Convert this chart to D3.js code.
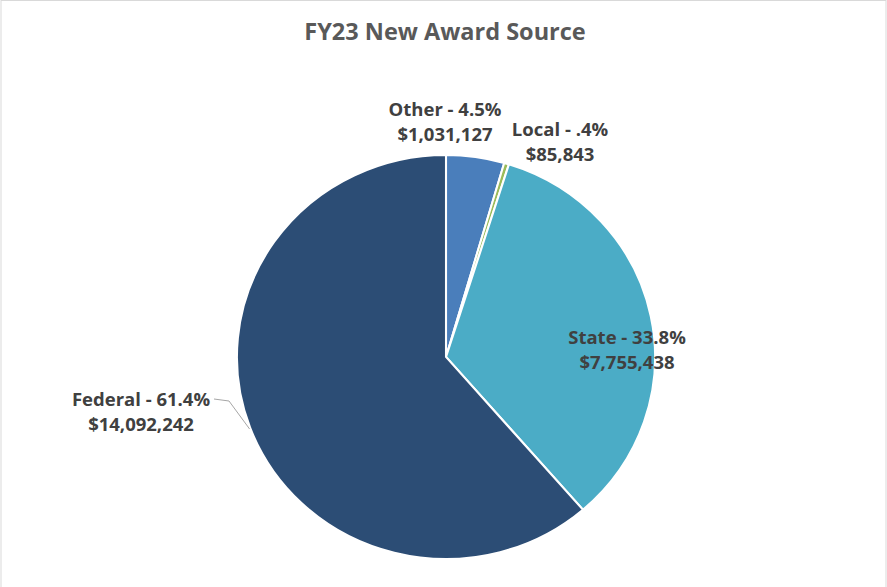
<!DOCTYPE html>
<html lang="en">
<head>
<meta charset="UTF-8">
<title>FY23 New Award Source</title>
<script src="https://d3js.org/d3.v7.min.js"></script>
<style>
  body { margin: 0; background: #fff; }
  text { font-family: "Open Sans", "Liberation Sans", sans-serif; font-weight: bold; }
</style>
</head>
<body>
<svg width="887" height="587"></svg>
<script>
// data
var categories = ['Other', 'Local', 'State', 'Federal'];
var amounts = [1031127, 85843, 7755438, 14092242];
var pctLabels = ['4.5%', '.4%', '33.8%', '61.4%'];
var amountLabels = ['$1,031,127', '$85,843', '$7,755,438', '$14,092,242'];

var colors = ['#4a7ebb', '#9bbb59', '#4bacc6', '#2c4d75'];
// label offsets from pie centre (best-fit placement)
var labelPos = [[-1, -237], [114, -217], [181, -9], [-305, 53]];

var svg = d3.select('svg');
var width = +svg.attr('width');
var height = +svg.attr('height');

// chart frame
svg.append('rect')
    .attr('x', 1).attr('y', 0.5)
    .attr('width', width - 2).attr('height', height)
    .attr('fill', '#fff')
    .attr('stroke', '#d9d9d9');

svg.append('text')
    .attr('x', 445).attr('y', 40)
    .attr('text-anchor', 'middle')
    .attr('fill', '#595959')
    .style('font-size', '23.5px')
    .text('FY23 New Award Source');

var cx = 446, cy = 357, r = 202;

var pie = d3.pie().sort(null).value(function (d) { return d; });
var arc = d3.arc().innerRadius(0).outerRadius(r);
var pieData = pie(amounts);

var g = svg.append('g')
    .attr('transform', 'translate(' + cx + ',' + cy + ') scale(1.035,1)');

g.selectAll('path')
    .data(pieData)
    .enter()
    .append('path')
    .attr('d', arc)
    .attr('fill', function (d, i) { return colors[i]; })
    .attr('stroke', '#fff')
    .attr('stroke-width', 2);

// leader line for Federal
svg.append('polyline')
    .attr('points', [
        [cx + labelPos[3][0] + 73, cy + labelPos[3][1] - 11],
        [cx + labelPos[3][0] + 88, cy + labelPos[3][1] - 9],
        [cx + Math.sin(Math.PI * 1.5 + 0.35) * r * 1.035, cy + 72]
    ].map(function (p) { return p.join(','); }).join(' '))
    .attr('fill', 'none')
    .attr('stroke', '#a6a6a6')
    .attr('stroke-width', 1);

var labels = svg.selectAll('.lbl')
    .data(pieData)
    .enter()
    .append('text')
    .attr('class', 'lbl')
    .attr('text-anchor', 'middle')
    .attr('fill', '#404040')
    .style('font-size', '18.5px')
    .attr('transform', function (d, i) {
        return 'translate(' + (cx + labelPos[i][0]) + ',' + (cy + labelPos[i][1]) + ')';
    });

labels.append('tspan')
    .attr('x', 0).attr('y', -4)
    .text(function (d, i) { return categories[i] + ' - ' + pctLabels[i]; });
labels.append('tspan')
    .attr('x', 0).attr('y', 21)
    .text(function (d, i) { return amountLabels[i]; });
</script>
</body>
</html>
